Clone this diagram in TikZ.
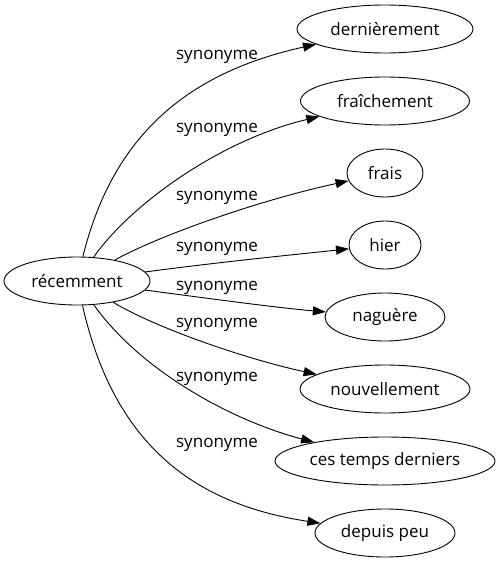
\documentclass[tikz,border=0pt]{standalone}
\usepackage{fontspec}
\setmainfont{Open Sans}
\usetikzlibrary{arrows.meta}
\usetikzlibrary{shapes.geometric}

\begin{document}
\begin{tikzpicture}[x=1pt, y=-1pt,
    word/.style={ellipse, draw, line width=0.9pt, inner sep=0pt, minimum height=48pt, font=\fontsize{17}{20}\selectfont, text=black},
    syn/.style={line width=0.9pt, -{Triangle[length=13pt, width=9pt]}},
    lab/.style={font=\fontsize{17}{20}\selectfont, text=black, inner sep=0pt}]
    \useasboundingbox (0,0) rectangle (501,563);

    \node[word, minimum width=146pt] (rec) at (77,281) {récemment};
    \node[word, minimum width=176pt] (der) at (385,29) {dernièrement};
    \node[word, minimum width=169pt] (fra) at (385,101) {fraîchement};
    \node[word, minimum width=76pt] (frs) at (385,173) {frais};
    \node[word, minimum width=72pt] (hie) at (385,245) {hier};
    \node[word, minimum width=120pt] (nag) at (385,317) {naguère};
    \node[word, minimum width=170pt] (nou) at (385,389) {nouvellement};
    \node[word, minimum width=220pt] (ces) at (385,461) {ces temps derniers};
    \node[word, minimum width=140pt] (dep) at (385,533) {depuis peu};

    \node[lab] (l1) at (217,57) {synonyme};
    \node[lab] (l2) at (217,130) {synonyme};
    \node[lab] (l3) at (217,198) {synonyme};
    \node[lab] (l4) at (217,249) {synonyme};
    \node[lab] (l5) at (217,288) {synonyme};
    \node[lab] (l6) at (217,325) {synonyme};
    \node[lab] (l7) at (217,379) {synonyme};
    \node[lab] (l8) at (217,445) {synonyme};

    \draw[syn] (rec) .. controls (115,125) and (200,70) .. (der);
    \draw[syn] (rec) .. controls (130,205) and (220,140) .. (fra);
    \draw[syn] (rec) .. controls (160,235) and (260,200) .. (frs);
    \draw[syn] (rec) .. controls (220,262) and (300,254) .. (hie);
    \draw[syn] (rec) .. controls (220,300) and (280,308) .. (nag);
    \draw[syn] (rec) .. controls (160,330) and (250,360) .. (nou);
    \draw[syn] (rec) .. controls (140,370) and (230,420) .. (ces);
    \draw[syn] (rec) .. controls (115,450) and (200,505) .. (dep);
  \end{tikzpicture}
\end{document}
